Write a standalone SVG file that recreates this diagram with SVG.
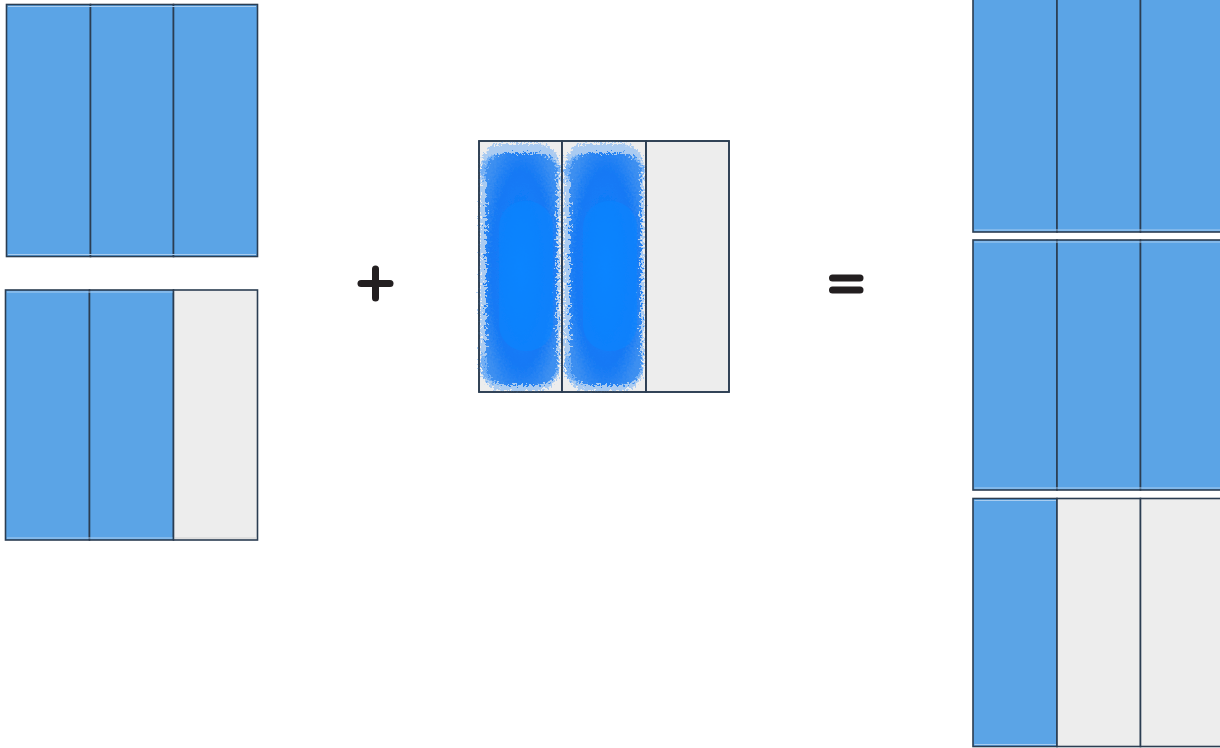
<svg xmlns="http://www.w3.org/2000/svg" width="1220" height="748" viewBox="0 0 1220 748">
<style>
.cell{stroke:#2b3d52;stroke-width:1.6}
.blue{fill:#5ba4e6}
.grey{fill:#ededed}
.hl{stroke:#a9cdf0;stroke-width:1;fill:none}
.hlg{stroke:#d0d0d0;stroke-width:1;fill:none}
.op{stroke:#231f20;stroke-width:7;stroke-linecap:round;fill:none}
</style>
<defs>
<filter id="fuzz" x="-20%" y="-10%" width="140%" height="120%">
<feTurbulence type="fractalNoise" baseFrequency="0.45" numOctaves="2" seed="3" result="n"/>
<feDisplacementMap in="SourceGraphic" in2="n" scale="12" xChannelSelector="R" yChannelSelector="G"/>
</filter>
<radialGradient id="bg" cx="0.5" cy="0.5" r="0.6">
<stop offset="0" stop-color="#0a84ff"/>
<stop offset="0.7" stop-color="#1479f5"/>
<stop offset="1" stop-color="#3d8ff0"/>
</radialGradient>
<g id="stroke">
<rect x="1" y="2" width="80" height="248" rx="24" fill="#6aaaf5" opacity="0.5" filter="url(#fuzz)"/>
<rect x="2" y="14" width="78" height="32" rx="16" fill="#4d9cf6" opacity="0.6" filter="url(#fuzz)"/>
<rect x="2" y="206" width="78" height="36" rx="16" fill="#4d9cf6" opacity="0.6" filter="url(#fuzz)"/>
<rect x="7" y="12" width="71" height="232" rx="20" fill="url(#bg)" filter="url(#fuzz)"/>
<rect x="20" y="60" width="54" height="150" rx="26" fill="#0a86ff" opacity="0.6"/>
</g>
</defs>
<rect width="1220" height="748" fill="#ffffff"/>

<g id="box-top-left">
<rect class="cell blue" x="6.5" y="4.5" width="84" height="252"/>
<rect class="cell blue" x="90.5" y="4.5" width="83" height="252"/>
<rect class="cell blue" x="173.5" y="4.5" width="84" height="252"/>
<line class="hl" x1="8" y1="6.5" x2="256" y2="6.5"/>
<line class="hl" x1="8" y1="254.5" x2="256" y2="254.5"/>
</g>

<g id="box-bottom-left">
<rect class="cell blue" x="5.5" y="290" width="84" height="250"/>
<rect class="cell blue" x="89.5" y="290" width="84" height="250"/>
<rect class="cell grey" x="173.5" y="290" width="84" height="250"/>
<line class="hl" x1="7" y1="292" x2="172.5" y2="292"/>
<line class="hl" x1="7" y1="538" x2="172.5" y2="538"/>
<line class="hlg" x1="175" y1="538" x2="256.5" y2="538"/>
</g>

<g id="plus">
<line class="op" x1="361" y1="283.5" x2="390" y2="283.5"/>
<line class="op" x1="375.5" y1="269" x2="375.5" y2="298"/>
</g>

<g id="box-middle">
<rect class="cell grey" x="479" y="141" width="83" height="251"/>
<rect class="cell grey" x="562" y="141" width="84" height="251"/>
<rect class="cell grey" x="646" y="141" width="83" height="251"/>
<use href="#stroke" x="479" y="141"/>
<use href="#stroke" x="563" y="141"/>
<line class="cell" x1="562" y1="141" x2="562" y2="392" fill="none"/>
<line class="cell" x1="646" y1="141" x2="646" y2="392" fill="none"/>
<rect x="479" y="141" width="250" height="251" fill="none" stroke="#2b3d52" stroke-width="1.6"/>
</g>

<g id="equals">
<line class="op" x1="832.5" y1="278" x2="860" y2="278"/>
<line class="op" x1="832.5" y1="290" x2="860" y2="290"/>
</g>

<g id="box-right-1">
<rect class="cell blue" x="973" y="-20" width="84" height="252"/>
<rect class="cell blue" x="1057" y="-20" width="83.5" height="252"/>
<rect class="cell blue" x="1140.5" y="-20" width="84" height="252"/>
<line class="hl" x1="974.5" y1="230" x2="1220" y2="230"/>
</g>

<g id="box-right-2">
<rect class="cell blue" x="973" y="240" width="84" height="250"/>
<rect class="cell blue" x="1057" y="240" width="83.5" height="250"/>
<rect class="cell blue" x="1140.5" y="240" width="84" height="250"/>
<line class="hl" x1="974.5" y1="242" x2="1220" y2="242"/>
<line class="hl" x1="974.5" y1="488" x2="1220" y2="488"/>
</g>

<g id="box-right-3">
<rect class="cell blue" x="973" y="498.5" width="84" height="248"/>
<rect class="cell grey" x="1057" y="498.5" width="83.5" height="248"/>
<rect class="cell grey" x="1140.5" y="498.5" width="84" height="248"/>
<line class="hl" x1="974.5" y1="500.5" x2="1056" y2="500.5"/>
<line class="hl" x1="974.5" y1="744.5" x2="1056" y2="744.5"/>
</g>
</svg>
